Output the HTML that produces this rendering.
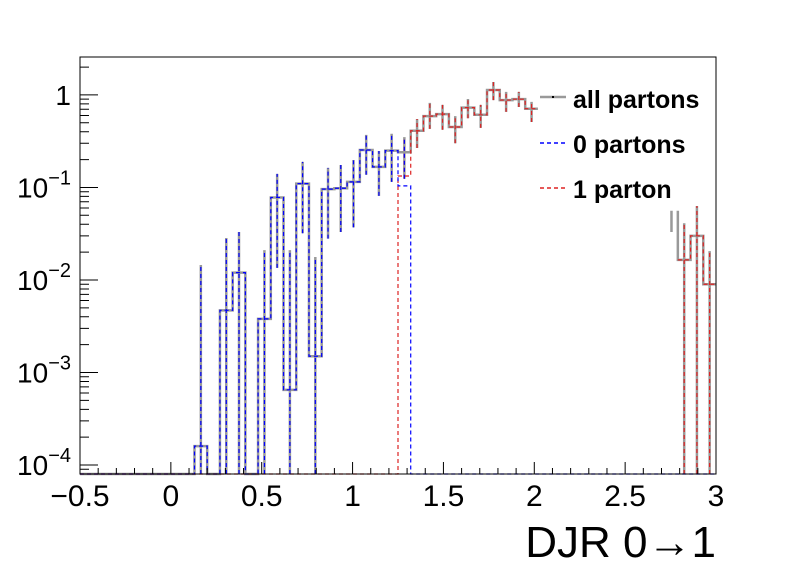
<!DOCTYPE html>
<html><head><meta charset="utf-8"><style>
body{margin:0;background:#fff}
svg text{font-family:"Liberation Sans",sans-serif}
</style></head><body>
<svg id="c" width="796" height="572" xmlns="http://www.w3.org/2000/svg">
<rect width="796" height="572" fill="#fff"/>
<g id="plot"></g>
<g id="axes"></g>
<g>
 <g>
  <line x1="540" y1="97" x2="566" y2="97" stroke="#999" stroke-width="2.5"/>
  <rect x="552" y="96" width="2" height="2" fill="#000"/>
  <text x="573" y="108" font-size="25" font-weight="bold">all partons</text></g>
 <g>
  <line x1="540" y1="143" x2="566" y2="143" stroke="#00f" stroke-width="1.5" stroke-dasharray="4,3"/>
  <text x="573" y="153" font-size="25" font-weight="bold">0 partons</text></g>
 <g>
  <line x1="540" y1="188" x2="566" y2="188" stroke="#d22" stroke-width="1.5" stroke-dasharray="4,3"/>
  <text x="573" y="198" font-size="25" font-weight="bold">1 parton</text></g>
</g>
<text x="716" y="557" font-size="44" text-anchor="end">DJR 0→1</text>
</svg>
<script>
const binLo = -0.5, binW = 0.07, nBins = 50;
const allVals = [0,0,0,0,0,0,0,0,0,1.6e-4,0,4.7e-3,0.012,0,3.8e-3,0.078,6.5e-4,0.11,1.5e-3,0.096,0.098,0.115,0.254,0.167,0.25,0.24,0.41,0.59,0.62,0.45,0.73,0.61,1.13,0.88,0.9,0.71,0,0,0,0,0,0,0,0,0,0,0,0.0165,0.030,0.009];
const zeroVals = [0,0,0,0,0,0,0,0,0,1.6e-4,0,4.7e-3,0.012,0,3.8e-3,0.078,6.5e-4,0.11,1.5e-3,0.096,0.098,0.115,0.254,0.167,0.25,0.104,0,0,0,0,0,0,0,0,0,0,0,0,0,0,0,0,0,0,0,0,0,0,0,0];
const oneVals = [0,0,0,0,0,0,0,0,0,0,0,0,0,0,0,0,0,0,0,0,0,0,0,0,0,0.133,0.41,0.59,0.62,0.45,0.73,0.61,1.13,0.88,0.9,0.71,0,0,0,0,0,0,0,0,0,0,0,0.0165,0.030,0.009];
const errHi = [0,0,0,0,0,0,0,0,0,0.0145,0,0.0284,0.033,0,0.021,0.14,0.021,0.189,0.0177,0.163,0.175,0.198,0.37,0.248,0.38,0.35,0.55,0.82,0.78,0.59,0.905,0.78,1.38,1.08,1.08,0.84,0,0,0,0,0,0,0,0,0,0,0.056,0.041,0.063,0.0205];
const errLo = [0,0,0,0,0,0,0,0,0,0,0,0,0,0,0,0.0135,0,0.032,0,0.028,0.033,0.037,0.137,0.081,0.115,0.124,0.267,0.43,0.42,0.30,0.56,0.44,0.88,0.655,0.74,0.51,0,0,0,0,0,0,0,0,0,0,0.033,0,0,0];
const xTicks = [-0.5,0,0.5,1,1.5,2,2.5,3];
const xTickLabels = ["−0.5","0","0.5","1","1.5","2","2.5","3"];
const yDecades = [-4,-3,-2,-1,0];

const X0=80,X1=716,Y0=474,Y1=57;
const xMin=-0.5,xMax=3,yMinL=Math.log10(8e-5),yMaxL=Math.log10(2.57);
const sx=v=>X0+(v-xMin)/(xMax-xMin)*(X1-X0);
const sy=v=>v<=8e-5?Y0:Y0-(Math.log10(v)-yMinL)/(yMaxL-yMinL)*(Y0-Y1);
const NS="http://www.w3.org/2000/svg";
const plot=document.getElementById('plot'),axes=document.getElementById('axes');
function mk(tag,attrs,parent){const e=document.createElementNS(NS,tag);for(const k in attrs)e.setAttribute(k,attrs[k]);parent.appendChild(e);return e;}

function stepPath(vals,from,to,startY){let d='';for(let i=from;i<=to;i++){const a=sx(binLo+i*binW),b=sx(binLo+(i+1)*binW),y=sy(vals[i]);d+=(i===from?'M'+a+','+(startY===undefined?y:startY)+'L'+a+','+y:'L'+a+','+y)+'L'+b+','+y;}return d;}
function errPath(vals,cond){let d='';for(let i=0;i<nBins;i++){if(errHi[i]<=0||!cond(i))continue;const c=sx(binLo+(i+0.5)*binW);d+='M'+c+','+sy(errLo[i])+'L'+c+','+sy(errHi[i]);}return d;}

// last filled bin before the gap, and first after
let lastA=0;for(let i=0;i<40;i++)if(allVals[i]>0)lastA=i;
let firstB=nBins-1;for(let i=nBins-1;i>lastA;i--)if(allVals[i]>0)firstB=i;

const gAll=mk('path',{d:stepPath(allVals,0,lastA)+stepPath(allVals,firstB,nBins-1,sy(errHi[firstB-1]||allVals[firstB]))+errPath(allVals,()=>true),fill:'none',stroke:'#999','stroke-width':2.5},plot);


const gOne=mk('path',{d:stepPath(oneVals,0,lastA)+stepPath(oneVals,firstB,nBins-1)+errPath(oneVals,i=>oneVals[i]>0),fill:'none',stroke:'#d22','stroke-width':1.2,'stroke-dasharray':'4,3'},plot);


const gZero=mk('path',{d:stepPath(zeroVals,0,nBins-1)+errPath(zeroVals,i=>zeroVals[i]>0),fill:'none',stroke:'#00f','stroke-width':1.2,'stroke-dasharray':'4,3'},plot);



const fr=mk('rect',{x:X0,y:Y1,width:X1-X0,height:Y0-Y1,fill:'none',stroke:'#000','stroke-width':1},axes);


let td='';
for(let k=0;k<=35;k++){const v=-0.5+k*0.1,x=sx(v);td+='M'+x+','+Y0+'L'+x+','+(Y0-(k%5===0?12:6));}
for(const d of yDecades){td+='M'+X0+','+sy(Math.pow(10,d))+'L'+(X0+18)+','+sy(Math.pow(10,d));}
for(let d=-5;d<=0;d++)for(let m=2;m<=9;m++){const v=m*Math.pow(10,d);if(v<8e-5||v>2.57)continue;td+='M'+X0+','+sy(v)+'L'+(X0+9)+','+sy(v);}
const tk=mk('path',{d:td,stroke:'#000','stroke-width':1,fill:'none'},axes);


xTicks.forEach((v,i)=>{const t=mk('text',{x:sx(v),y:506,'font-size':30,'text-anchor':'middle'},axes);t.textContent=xTickLabels[i];

});
yDecades.forEach(d=>{const y=sy(Math.pow(10,d));const t=mk('text',{x:71,y:y+10,'font-size':28,'text-anchor':'end'},axes);


if(d===0){t.textContent='1';}else{t.textContent='10';const s=mk('tspan',{dy:-13,'font-size':20},t);s.textContent='−'+(-d);}});
</script>
</body></html>
